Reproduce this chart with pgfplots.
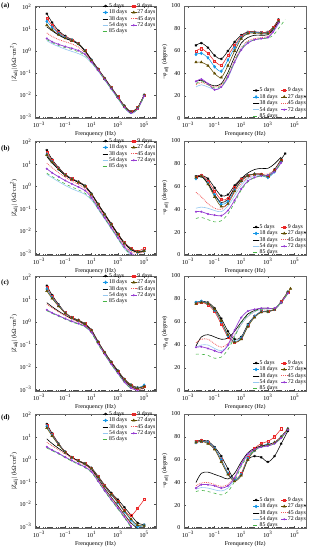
\documentclass[border=0pt]{standalone}
\usepackage{fontspec}
\setmainfont{Liberation Serif}
\usepackage{pgfplots}
\usepackage{pgfplotstable}
\pgfplotsset{compat=1.18}

\definecolor{cRed}{RGB}{235,40,40}
\definecolor{cBlue}{RGB}{20,150,230}
\definecolor{cOlive}{RGB}{95,75,0}
\definecolor{cRedL}{RGB}{240,90,90}
\definecolor{cLB}{RGB}{150,200,240}
\definecolor{cPur}{RGB}{150,60,210}
\definecolor{cGr}{RGB}{70,180,70}

% columns: L, a=5d, b=9d, c=18d, d=27d, e=38d, f=45d, g=54d, h=72d, i=85d
\pgfplotstableread{
L a b c d e f g h i
-2.4 1.70 1.50 1.35 1.18 1.10 0.82 0.47 0.57 0.52
-2 1.30 1.17 1.08 0.97 0.92 0.66 0.33 0.42 0.38
-1.5 0.92 0.85 0.80 0.74 0.72 0.52 0.20 0.30 0.25
-1 0.68 0.64 0.61 0.58 0.57 0.42 0.08 0.20 0.15
-0.5 0.52 0.50 0.49 0.47 0.46 0.32 -0.02 0.12 0.07
0 0.34 0.33 0.33 0.32 0.31 0.18 -0.12 0.02 -0.04
0.5 0.02 0.02 0.01 0.00 0.00 -0.07 -0.27 -0.15 -0.20
1 -0.40 -0.41 -0.42 -0.43 -0.43 -0.46 -0.55 -0.50 -0.52
1.5 -0.82 -0.83 -0.84 -0.84 -0.85 -0.86 -0.92 -0.88 -0.90
2 -1.24 -1.25 -1.26 -1.26 -1.27 -1.28 -1.33 -1.30 -1.31
2.5 -1.66 -1.67 -1.68 -1.68 -1.69 -1.70 -1.75 -1.72 -1.73
3 -2.08 -2.09 -2.10 -2.10 -2.11 -2.12 -2.17 -2.14 -2.15
3.5 -2.50 -2.51 -2.52 -2.52 -2.54 -2.55 -2.60 -2.57 -2.58
4 -2.76 -2.77 -2.78 -2.78 -2.80 -2.81 -2.86 -2.83 -2.84
4.5 -2.58 -2.59 -2.60 -2.60 -2.62 -2.63 -2.66 -2.64 -2.65
5 -2.00 -2.01 -2.02 -2.02 -2.03 -2.04 -2.06 -2.05 -2.05
}\ZA
\pgfplotstableread{
L a b c d e f g h i
-2.4 65 60 57 50 33 30 28 33 31
-2 67 62 58 50 34 32 30 35 33
-1.5 63 58 54 47 31 30 28 31 30
-1 56 51 46 40 29 28 26 25.5 27
-0.5 53 47.5 42 36.5 31 30 28 28 29
0 60 56 52 47 41 38 36 37 38
0.5 68 65 63 60 55 52 50 50 51
1 74 73 72 71 67 63 62 61 62
1.5 77 76.5 76 75.5 72 69 68 67 68
2 77 77 76.5 76 74 71 70 70 70
2.5 76.5 76.5 76 75.5 74 72 71 71 71
3 77 76.5 76 75.5 74.5 73 72 72 71.5
3.4 81 81 80 80 79 78 77 77 74
3.8 88 87 86 86 86 85 84 85 80
4.3 nan nan nan nan nan nan nan nan 88
}\PA
\pgfplotstableread{
L a b c d e f g h i
-2.4 1.64 1.55 1.45 1.42 1.35 1.05 0.55 0.80 0.60
-2 1.22 1.17 1.12 1.10 1.06 0.85 0.40 0.62 0.45
-1.5 0.85 0.82 0.79 0.78 0.76 0.62 0.22 0.44 0.28
-1 0.55 0.53 0.52 0.51 0.50 0.42 0.05 0.27 0.12
-0.5 0.36 0.35 0.34 0.33 0.33 0.25 -0.10 0.12 -0.02
0 0.22 0.21 0.20 0.20 0.19 0.10 -0.22 -0.02 -0.15
0.5 0.04 0.03 0.02 0.02 0.01 -0.08 -0.35 -0.18 -0.30
1 -0.32 -0.33 -0.34 -0.34 -0.35 -0.42 -0.60 -0.50 -0.56
1.5 -0.78 -0.79 -0.80 -0.80 -0.81 -0.88 -1.02 -0.96 -1.00
2 -1.23 -1.24 -1.25 -1.25 -1.26 -1.33 -1.46 -1.40 -1.44
2.5 -1.67 -1.68 -1.70 -1.70 -1.71 -1.78 -1.90 -1.85 -1.88
3 -2.12 -2.13 -2.14 -2.14 -2.15 -2.22 -2.35 -2.30 -2.33
3.5 -2.52 -2.53 -2.55 -2.55 -2.56 -2.65 -2.80 -2.72 -2.78
4 -2.78 -2.79 -2.82 -2.82 -2.84 -2.92 -3.10 -3.00 -3.05
4.5 -2.93 -2.90 -2.95 -2.94 -2.96 -3.00 nan -3.15 nan
5 -2.87 -2.78 -2.90 -2.90 -2.92 -2.95 nan nan nan
}\ZB
\pgfplotstableread{
L a b c d e f g h i
-2.4 69 68 67 68 68 55 41 38 32
-2 70 70 69 69 69 51 42 38 33
-1.5 67 65 63 62 63 45 41 36 31
-1 59 56 53 51 53 41 39 35 29
-0.5 52 48.5 44.5 42.5 46 40 38 34.5 30
0 53 50 47 45 49 45 43 39 36
0.5 61 59 57 56 59 55 52 48 46
1 67 66 65 65 67 63 61 58 57
1.5 70 70 69.5 69.5 72 68 67 65 64
2 71 71 71 71 75 70 69 68 68
2.5 71 71 70 70.5 76 71 70 69.5 69
3 69.5 69 68 69 76 71 70 70 70
3.5 75 74 73 74 80 75 74 73 73
4 84 83 82 83 86 83 82 81 81
4.3 89 nan nan nan nan nan nan nan nan
}\PB
\pgfplotstableread{
L a b c d e f g h i
-2.4 1.62 1.53 1.47 1.38 0.86 0.80 0.52 0.54 0.50
-2 1.20 1.14 1.10 1.05 0.68 0.63 0.40 0.41 0.38
-1.5 0.78 0.75 0.73 0.70 0.48 0.45 0.27 0.28 0.25
-1 0.42 0.41 0.40 0.39 0.30 0.27 0.14 0.15 0.12
-0.5 0.20 0.20 0.19 0.19 0.15 0.12 0.02 0.03 0.00
0 0.08 0.08 0.07 0.07 0.03 0.00 -0.08 -0.07 -0.10
0.5 -0.08 -0.08 -0.09 -0.09 -0.12 -0.14 -0.20 -0.19 -0.22
1 -0.36 -0.37 -0.38 -0.38 -0.42 -0.44 -0.48 -0.46 -0.50
1.5 -0.88 -0.89 -0.90 -0.90 -0.93 -0.95 -0.98 -0.97 -1.00
2 -1.35 -1.36 -1.37 -1.37 -1.40 -1.42 -1.45 -1.44 -1.46
2.5 -1.78 -1.79 -1.80 -1.80 -1.83 -1.86 -1.90 -1.88 -1.90
3 -2.17 -2.18 -2.19 -2.19 -2.23 -2.26 -2.30 -2.28 -2.30
3.5 -2.55 -2.56 -2.57 -2.57 -2.62 -2.65 -2.70 -2.68 -2.70
4 -2.80 -2.81 -2.83 -2.83 -2.88 -2.92 -2.98 -2.95 -2.97
4.5 -2.93 -2.94 -2.93 -2.95 -3.00 -3.02 nan -3.05 nan
5 -2.86 -2.87 -2.82 -2.88 -2.95 -2.97 nan nan nan
}\ZC
\pgfplotstableread{
L a b c d e f g h i
-2.4 77 76 77 76 39 42 38 38 32
-2 78 77 78 77 47 45 40 38.5 32
-1.5 77 75 76 76 49 45 40 37 31
-1 72 69 70 71 47 41 37 35 28.5
-0.5 63 58 60 61 45 38 35 33.5 29.5
0 52 47 48 49 46 41 39 40 36
0.5 45 42 43 42.5 52 49 48 53 47
1 47 46 46 45 60 58 58 64 59
1.5 58 57 57 56 67 65 65 69.5 66
2 65 65 65 64 70 69 69 71 69.5
2.5 69 69 69 68.5 72 71 71 72 71
3 69.5 69 69 69 72 71.5 71.5 72 71.5
3.5 71 71 71 71 72 72 72 72 72
4 78 78 77 77 77 77 77 77 77
4.5 86 86 86 86 85 85 85 85 85
4.7 nan nan nan 89 nan nan nan nan nan
}\PC
\pgfplotstableread{
L a b c d e f g h i
-2.4 1.60 1.55 1.50 1.42 0.93 0.78 0.55 0.57 0.52
-2 1.18 1.14 1.10 1.06 0.72 0.62 0.42 0.43 0.40
-1.5 0.72 0.70 0.68 0.66 0.50 0.44 0.27 0.28 0.25
-1 0.35 0.34 0.33 0.32 0.30 0.25 0.10 0.11 0.08
-0.5 0.10 0.10 0.09 0.09 0.10 0.07 -0.05 -0.04 -0.07
0 -0.05 -0.05 -0.06 -0.06 -0.07 -0.10 -0.20 -0.19 -0.22
0.5 -0.18 -0.18 -0.19 -0.19 -0.22 -0.25 -0.35 -0.33 -0.37
1 -0.38 -0.39 -0.40 -0.40 -0.45 -0.48 -0.57 -0.55 -0.58
1.5 -0.75 -0.77 -0.79 -0.79 -0.86 -0.90 -0.98 -0.97 -1.00
2 -1.15 -1.18 -1.20 -1.20 -1.30 -1.33 -1.42 -1.40 -1.43
2.5 -1.50 -1.55 -1.58 -1.57 -1.70 -1.73 -1.82 -1.80 -1.83
3 -1.80 -1.88 -1.94 -1.92 -2.08 -2.10 -2.20 -2.18 -2.22
3.5 -2.15 -2.30 -2.35 -2.32 -2.48 -2.50 -2.60 -2.58 -2.62
4 -2.50 -2.52 -2.72 -2.68 -2.85 -2.90 -3.02 -3.00 -3.05
4.5 -2.85 -2.20 -3.02 -2.95 -3.10 nan nan nan nan
5 -2.93 -1.80 -2.95 -2.98 nan nan nan nan nan
}\ZD
\pgfplotstableread{
L a b c d e f g h i
-2.4 76 76 75 75 40 37 34 35 32
-2 77 76.5 76 76 48 39.5 35.5 38 33
-1.5 76 75 75 74 49 40 35 38 32
-1 71 70 70 69 47 38 33.5 37 30.5
-0.5 63 60 60 58 45 36.5 32.5 35 29
0 52 48 48 47 43 38 35 37 32
0.5 42.5 42 42 41 48 45 43 44 41
1 47 48 47 46 58 56 55 56 54
1.5 60 62 61 60 66 65 64 65 63
2 63 70 68 68 70 69 68 69 68
2.5 62 74 72 72 72 71.5 71 71 71
3 58 76 73.5 73 73 72.5 72 72 72
3.5 63 80 75 75 75 75 74 74 74
4 74 87 80 80 80 80 79 79 79
4.5 85 nan 87 87 87 87 86 86 86
}\PD

\pgfplotsset{
  legend image code/.code={\draw[mark repeat=2,mark phase=2,#1] plot coordinates {(0cm,0cm) (0.1cm,0cm) (0.2cm,0cm)};},
  s5/.style={black, smooth, mark=asterisk, mark size=1.3pt, line width=0.55pt, mark options={solid}},
  s9/.style={cRed, smooth, mark=square, mark size=1.05pt, line width=0.55pt, mark options={solid}},
  s18/.style={cBlue, smooth, mark=diamond*, mark size=1.4pt, line width=0.55pt, mark options={solid}},
  s27/.style={cOlive, smooth, mark=triangle*, mark size=1.3pt, line width=0.55pt, mark options={solid}},
  s38/.style={black, smooth, no marks, line width=0.6pt},
  s45/.style={cRedL, smooth, no marks, densely dotted, line width=0.8pt},
  s54/.style={cLB, smooth, no marks, line width=0.6pt},
  s72/.style={cPur, smooth, mark=*, mark size=0.65pt, line width=0.7pt, mark options={solid}},
  s85/.style={cGr, smooth, no marks, dashed, line width=0.6pt},
  base/.style={scale only axis, xmin=-3.3, xmax=5.9,
    xtick={-3,-1,1,3,5},
    xticklabels={10\textsuperscript{−3},10\textsuperscript{−1},10\textsuperscript{1},10\textsuperscript{3},10\textsuperscript{5}},
    minor xtick={-3.222,-3.155,-3.097,-3.046,
      -2.699,-2.523,-2.398,-2.301,-2.222,-2.155,-2.097,-2.046,-2,
      -1.699,-1.523,-1.398,-1.301,-1.222,-1.155,-1.097,-1.046,
      -0.699,-0.523,-0.398,-0.301,-0.222,-0.155,-0.097,-0.046,0,
      0.301,0.477,0.602,0.699,0.778,0.845,0.903,0.954,
      1.301,1.477,1.602,1.699,1.778,1.845,1.903,1.954,2,
      2.301,2.477,2.602,2.699,2.778,2.845,2.903,2.954,
      3.301,3.477,3.602,3.699,3.778,3.845,3.903,3.954,4,
      4.301,4.477,4.602,4.699,4.778,4.845,4.903,4.954,
      5.301,5.477,5.602,5.699,5.778,5.845},
    tick align=inside, major tick length=2pt, minor tick length=1.2pt,
    tick style={black!70, line width=0.3pt},
    axis line style={black!60, line width=0.4pt},
    tick label style={font=\fontsize{6}{7}\selectfont},
    label style={font=\fontsize{6}{7}\selectfont},
    xlabel={Frenquency (Hz)},
    xlabel style={yshift=3pt},
    legend columns=2, legend cell align=left,
    legend style={draw=none, fill=none, font=\fontsize{5.8}{6}\selectfont,
      inner sep=0pt, nodes={inner sep=0.45pt},
      /tikz/every even column/.append style={column sep=3pt}},
  },
  zax/.style={base, width=121pt, ymin=-3.08, ymax=2.05,
    ytick={-3,-2,-1,0,1,2},
    yticklabels={10\textsuperscript{−3},10\textsuperscript{−2},10\textsuperscript{−1},10\textsuperscript{0},10\textsuperscript{1},10\textsuperscript{2}},
    ylabel={|\textit{Z}\textsubscript{adj}| (kΩ·cm\textsuperscript{2})},
    ylabel style={yshift=-5.5pt},
    legend style={at={(1.0,1.03)}, anchor=north east}},
  pax/.style={base, width=122.5pt, ymin=0, ymax=100,
    ytick={0,20,40,60,80,100},
    /pgf/number format/assume math mode=true,
    ylabel={−\textit{φ}\textsubscript{adj} (degree)},
    ylabel style={yshift=-4pt},
    legend style={at={(1.0,-0.01)}, anchor=south east}},
}

\newcommand\plotall[1]{%
  \addplot[s5] table[x=L,y=a]{#1};
  \addplot[s9] table[x=L,y=b]{#1};
  \addplot[s18] table[x=L,y=c]{#1};
  \addplot[s27] table[x=L,y=d]{#1};
  \addplot[s38] table[x=L,y=e]{#1};
  \addplot[s45] table[x=L,y=f]{#1};
  \addplot[s54] table[x=L,y=g]{#1};
  \addplot[s72] table[x=L,y=h]{#1};
  \addplot[s85] table[x=L,y=i]{#1};
  \legend{5 days,9 days,18 days,27 days,38 days,45 days,54 days,72 days,85 days}%
}

\begin{document}
\begin{tikzpicture}
\useasboundingbox (0pt,0pt) rectangle (311pt,550pt);
% row a
\begin{axis}[zax, height=112.5pt, at={(35pt,431.5pt)}, anchor=south west]
\plotall{\ZA}
\end{axis}
\begin{axis}[pax, height=112.5pt, at={(184pt,431.5pt)}, anchor=south west]
\plotall{\PA}
\end{axis}
% row b
\begin{axis}[zax, height=114pt, at={(35pt,295pt)}, anchor=south west]
\plotall{\ZB}
\end{axis}
\begin{axis}[pax, height=114pt, at={(184pt,295pt)}, anchor=south west]
\plotall{\PB}
\end{axis}
% row c
\begin{axis}[zax, height=115pt, at={(35pt,159pt)}, anchor=south west]
\plotall{\ZC}
\end{axis}
\begin{axis}[pax, height=115pt, at={(184pt,159pt)}, anchor=south west]
\plotall{\PC}
\end{axis}
% row d
\begin{axis}[zax, height=114pt, at={(35pt,22pt)}, anchor=south west]
\plotall{\ZD}
\end{axis}
\begin{axis}[pax, height=114pt, at={(184pt,22pt)}, anchor=south west]
\plotall{\PD}
\end{axis}
\node[anchor=west, font=\bfseries\fontsize{7}{8}\selectfont, inner sep=0pt] at (1pt,544pt) {(a)};
\node[anchor=west, font=\bfseries\fontsize{7}{8}\selectfont, inner sep=0pt] at (1pt,401pt) {(b)};
\node[anchor=west, font=\bfseries\fontsize{7}{8}\selectfont, inner sep=0pt] at (1pt,267pt) {(c)};
\node[anchor=west, font=\bfseries\fontsize{7}{8}\selectfont, inner sep=0pt] at (1pt,132pt) {(d)};
\end{tikzpicture}
\end{document}
